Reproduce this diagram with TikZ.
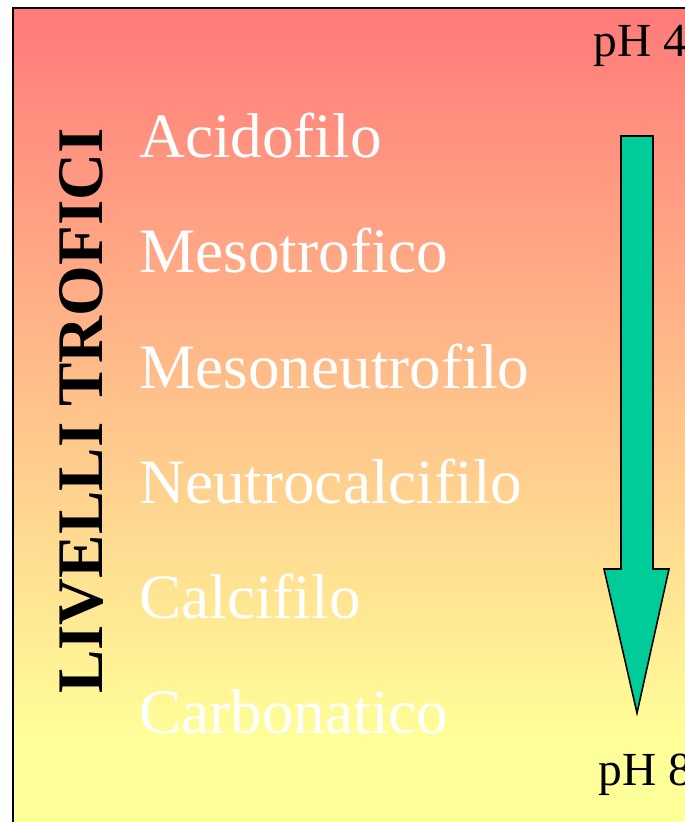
\documentclass[tikz,border=0pt]{standalone}
\usepackage{fontspec}
\setmainfont{Liberation Serif}
\definecolor{rosso}{RGB}{255,122,122}
\definecolor{giallo}{RGB}{255,255,153}
\definecolor{verde}{RGB}{0,204,153}
\begin{document}
\begin{tikzpicture}[x=0.02cm,y=-0.02cm,
  livello/.style={anchor=base west,inner sep=0pt,text=white,font=\fontsize{36}{40}\selectfont},
  ph/.style={anchor=base west,inner sep=0pt,font=\fontsize{27}{30}\selectfont}]
  \useasboundingbox (0,0) rectangle (685,822);
  \clip (0,0) rectangle (685,822);
  % sfondo
  \fill[giallo] (13,730) rectangle (700,840);
  \shade[top color=rosso,bottom color=giallo] (13,8) rectangle (700,740);
  \draw[line width=1.4pt] (13,840) -- (13,8) -- (700,8);
  \node[rotate=90,anchor=base west,inner sep=0pt,font=\bfseries\fontsize{37}{40}\selectfont] (titolo) at (102,694) {LIVELLI TROFICI};
  \node[livello] (acido) at (139,157) {Acidofilo};
  \node[livello] (meso) at (139,272) {Mesotrofico};
  \node[livello] (mesoneutro) at (139,388) {Mesoneutrofilo};
  \node[livello] (neutro) at (139,503) {Neutrocalcifilo};
  \node[livello] (calci) at (139,618) {Calcifilo};
  \node[livello] (carbo) at (139,733) {Carbonatico};
  \node[ph] (ph4) at (593,56) {pH 4};
  \node[ph] (ph8) at (598,785) {pH 8};
  % freccia
  \filldraw[fill=verde,line width=0.9pt,line join=miter]
    (621,136) -- (653,136) -- (653,569) -- (669,569) -- (637,713)
    -- (604,569) -- (621,569) -- cycle;
\end{tikzpicture}
\end{document}
